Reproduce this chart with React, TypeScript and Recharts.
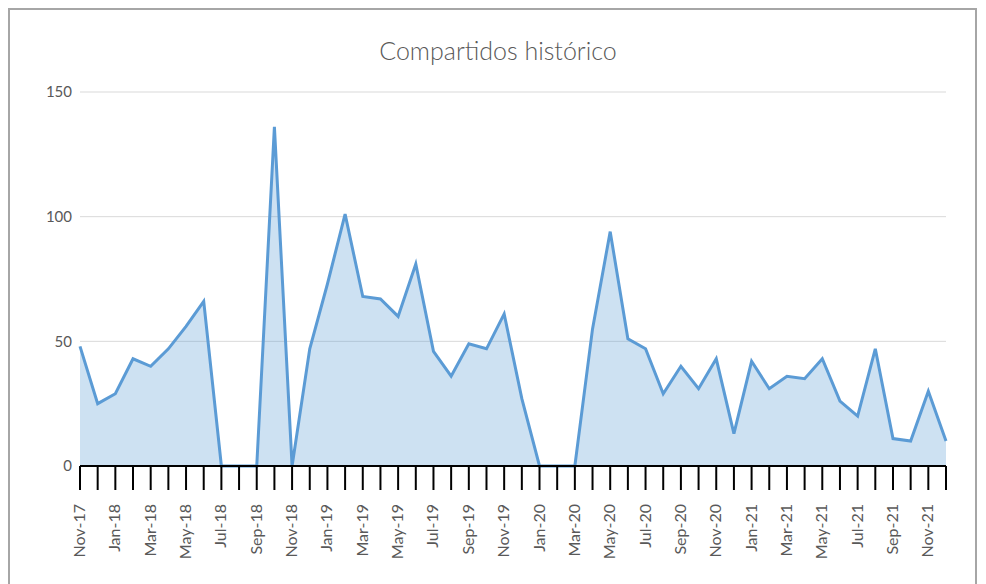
import { Area, AreaChart, CartesianGrid, XAxis, YAxis } from 'recharts';

const months = [
  'Nov-17', 'Dec-17', 'Jan-18', 'Feb-18', 'Mar-18', 'Apr-18', 'May-18', 'Jun-18', 'Jul-18', 'Aug-18',
  'Sep-18', 'Oct-18', 'Nov-18', 'Dec-18', 'Jan-19', 'Feb-19', 'Mar-19', 'Apr-19', 'May-19', 'Jun-19',
  'Jul-19', 'Aug-19', 'Sep-19', 'Oct-19', 'Nov-19', 'Dec-19', 'Jan-20', 'Feb-20', 'Mar-20', 'Apr-20',
  'May-20', 'Jun-20', 'Jul-20', 'Aug-20', 'Sep-20', 'Oct-20', 'Nov-20', 'Dec-20', 'Jan-21', 'Feb-21',
  'Mar-21', 'Apr-21', 'May-21', 'Jun-21', 'Jul-21', 'Aug-21', 'Sep-21', 'Oct-21', 'Nov-21', 'Dec-21',
];

const compartidos = [
  48, 25, 29, 43, 40, 47, 56, 66, 0, 0,
  0, 136, 0, 47, 73, 101, 68, 67, 60, 81,
  46, 36, 49, 47, 61, 27, 0, 0, 0, 55,
  94, 51, 47, 29, 40, 31, 43, 13, 42, 31,
  36, 35, 43, 26, 20, 47, 11, 10, 30, 10,
];

const yTicks = [0, 50, 100, 150];

const data = months.map((m, i) => ({ month: m, value: compartidos[i] }));

const FONT = 'Lato, "Open Sans", sans-serif';
const TEXT = '#595959';

function MonthTick(props: any) {
  const { x, y, payload, index } = props;
  if (index % 2 !== 0) return null;
  return (
    <g transform={`translate(${x + 5},${y + 12})`}>
      <text transform="rotate(-90)" textAnchor="end" fill={TEXT} fontSize={16} fontFamily={FONT}>
        {payload.value}
      </text>
    </g>
  );
}

export default function App() {
  return (
    <div
      style={{
        position: 'relative',
        width: 969,
        height: 584,
        border: '2px solid #a6a6a6',
        borderBottom: 'none',
        background: '#fff',
        boxSizing: 'border-box',
      }}
    >
      <div
        style={{
          position: 'absolute',
          top: 25,
          left: 0,
          width: 976,
          textAlign: 'center',
          fontFamily: FONT,
          fontSize: 25,
          fontWeight: 300,
          color: TEXT,
        }}
      >
        Compartidos histórico
      </div>
      <div style={{ position: 'absolute', left: -2, top: -2 }}>
        <AreaChart
          width={970}
          height={576}
          data={data}
          margin={{ top: 84, right: 32, left: 12, bottom: 28 }}
        >
          <CartesianGrid vertical={false} stroke="#d9d9d9" />
          <XAxis
            dataKey="month"
            interval={0}
            height={90}
            tickSize={24}
            tickLine={{ stroke: '#000', strokeWidth: 2 }}
            axisLine={{ stroke: '#000', strokeWidth: 2 }}
            tick={<MonthTick />}
          />
          <YAxis
            domain={[0, 150]}
            ticks={yTicks}
            width={60}
            axisLine={false}
            tickLine={false}
            tick={{ fill: TEXT, fontSize: 15, fontFamily: FONT }}
          />
          <Area
            type="linear"
            dataKey="value"
            stroke="#5b9bd5"
            strokeWidth={3}
            fill="#5b9bd5"
            fillOpacity={0.3}
            isAnimationActive={false}
            dot={false}
            activeDot={false}
          />
        </AreaChart>
      </div>
    </div>
  );
}
